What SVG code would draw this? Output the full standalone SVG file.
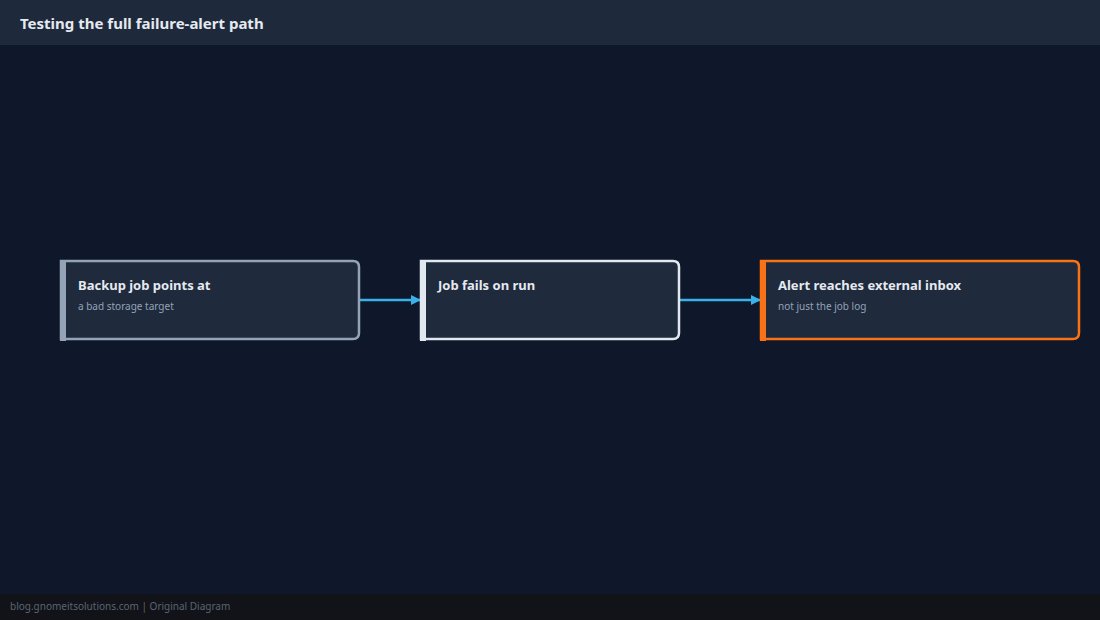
<svg xmlns="http://www.w3.org/2000/svg" width="1100" height="620" viewBox="0 0 1100 620">
<style>
.t{font-family:"Noto Sans","Open Sans",sans-serif;font-weight:bold;font-size:13px;fill:#e5e9f0}
.s{font-family:"Noto Sans","Open Sans",sans-serif;font-size:10px;fill:#94a3b8}
.box{fill:#1f2a3c;stroke-width:2.5}
.c{stroke:#38b2e8;stroke-width:2.5;fill:none}
</style>
<defs><marker id="a" viewBox="0 0 10 10" refX="9" refY="5" markerWidth="10" markerHeight="10" markerUnits="userSpaceOnUse" orient="auto"><path d="M0,0L10,5L0,10z" fill="#38b2e8"/></marker></defs>
<rect width="1100" height="620" fill="#0f172a"/>
<rect width="1100" height="45" fill="#1e293b"/>
<text x="20" y="29" font-family="Noto Sans,Open Sans,sans-serif" font-weight="bold" font-size="15" fill="#e5e9f0">Testing the full failure-alert path</text>
<rect y="594" width="1100" height="26" fill="#111318"/>
<text x="10" y="610" font-family="Noto Sans,Open Sans,sans-serif" font-size="10" fill="#5b6475">blog.gnomeitsolutions.com | Original Diagram</text>
<g id="connectors">
<line class="c" x1="360" y1="300" x2="420" y2="300" marker-end="url(#a)"/>
<line class="c" x1="680" y1="300" x2="760" y2="300" marker-end="url(#a)"/>
</g>
<g id="n1">
<path class="box" stroke="#94a3b8" d="M61,261H353Q359,261 359,267V333Q359,339 353,339H61Z"/>
<rect x="60" y="260" width="6" height="81" fill="#94a3b8"/>
<text class="t" x="78" y="290">Backup job points at</text>
<text class="s" x="78" y="310">a bad storage target</text>
</g>
<g id="n2">
<path class="box" stroke="#e2e8f0" d="M421,261H673Q679,261 679,267V333Q679,339 673,339H421Z"/>
<rect x="420" y="260" width="6" height="81" fill="#e2e8f0"/>
<text class="t" x="438" y="290">Job fails on run</text>
</g>
<g id="n3">
<path class="box" stroke="#f97316" d="M761,261H1073Q1079,261 1079,267V333Q1079,339 1073,339H761Z"/>
<rect x="760" y="260" width="6" height="81" fill="#f97316"/>
<text class="t" x="778" y="290">Alert reaches external inbox</text>
<text class="s" x="778" y="310">not just the job log</text>
</g>
</svg>
